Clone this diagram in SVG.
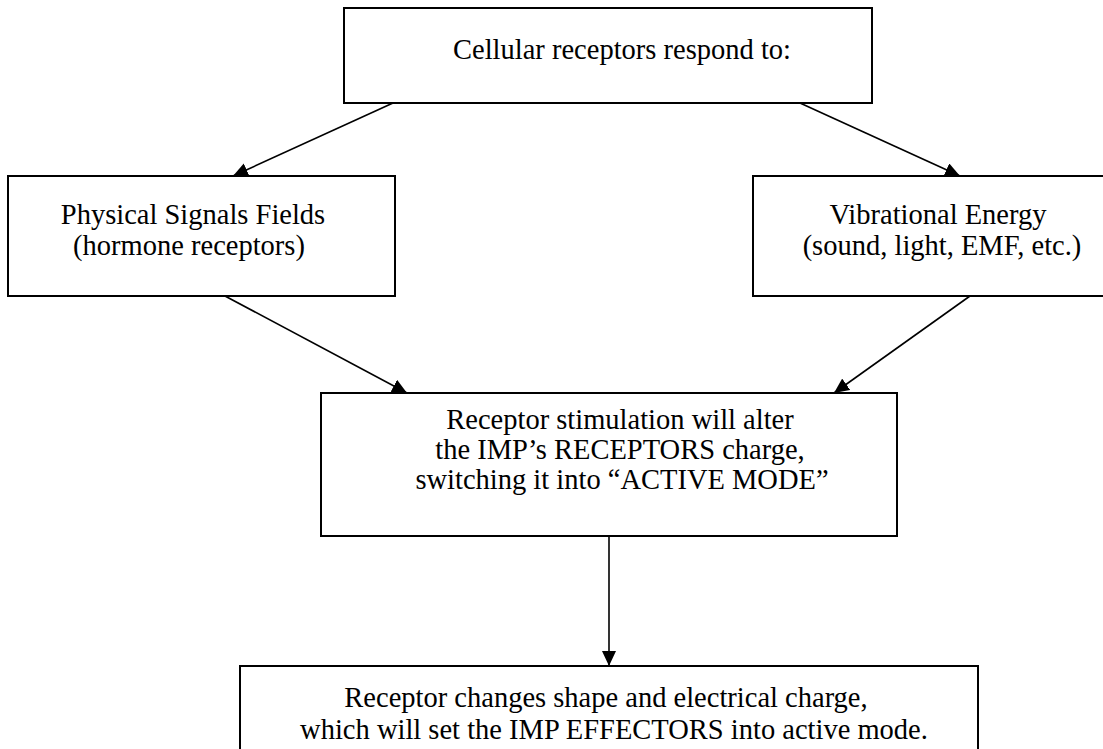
<svg xmlns="http://www.w3.org/2000/svg" width="1103" height="749" viewBox="0 0 1103 749">
<style>
.box{fill:#fff;stroke:#000;stroke-width:2}
.t{font-family:"Liberation Serif","Times New Roman",serif;font-size:28.5px;fill:#000;text-anchor:middle}
.c{stroke:#000;stroke-width:1.6;fill:none;marker-end:url(#ah)}
</style>
<defs>
<marker id="ah" markerUnits="userSpaceOnUse" markerWidth="16" markerHeight="14" refX="15" refY="7" orient="auto">
<path d="M0,0 L15,7 L0,14 Z" fill="#000"/>
</marker>
</defs>
<rect width="1103" height="749" fill="#fff"/>
<g id="n-top">
<rect class="box" x="344" y="8" width="528" height="95"/>
<text class="t" x="622" y="59">Cellular receptors respond to:</text>
</g>
<g id="n-left">
<rect class="box" x="8" y="176" width="387" height="120"/>
<text class="t" x="193" y="224">Physical Signals Fields</text>
<text class="t" x="189" y="255">(hormone receptors)</text>
</g>
<g id="n-right">
<rect class="box" x="753" y="176" width="380" height="120"/>
<text class="t" x="938" y="224">Vibrational Energy</text>
<text class="t" x="942" y="255">(sound, light, EMF, etc.)</text>
</g>
<g id="n-mid">
<rect class="box" x="321" y="393" width="576" height="143"/>
<text class="t" x="620" y="429">Receptor stimulation will alter</text>
<text class="t" x="620" y="459">the IMP’s RECEPTORS charge,</text>
<text class="t" x="622" y="489">switching it into “ACTIVE MODE”</text>
</g>
<g id="n-bottom">
<rect class="box" x="240" y="666" width="738" height="100"/>
<text class="t" x="606" y="707">Receptor changes shape and electrical charge,</text>
<text class="t" x="614" y="739">which will set the IMP EFFECTORS into active mode.</text>
</g>
<g id="connectors">
<line class="c" x1="393" y1="103" x2="233" y2="176"/>
<line class="c" x1="800" y1="103" x2="960" y2="176"/>
<line class="c" x1="225" y1="296" x2="407" y2="393"/>
<line class="c" x1="970" y1="296" x2="834" y2="393"/>
<line class="c" x1="609" y1="536" x2="609" y2="666"/>
</g>
</svg>
